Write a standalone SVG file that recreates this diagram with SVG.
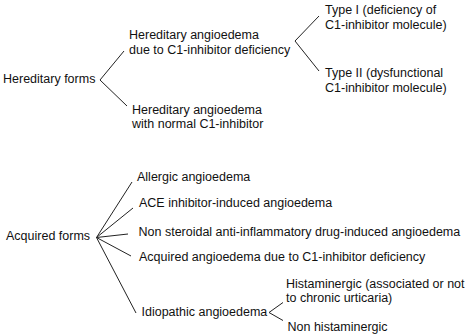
<svg xmlns="http://www.w3.org/2000/svg" width="474" height="336" viewBox="0 0 474 336">
<style>
text{font-family:"Liberation Sans",Arial,sans-serif;font-size:12.5px;fill:#111}
.c line{stroke:#222;stroke-width:1;fill:none}
</style>
<rect width="474" height="336" fill="#fff"/>
<g class="c" id="connectors">
<line x1="100" y1="80" x2="124" y2="51"/>
<line x1="100" y1="80" x2="127" y2="106"/>
<line x1="295" y1="41" x2="319" y2="16"/>
<line x1="295" y1="41" x2="319" y2="71"/>
<line x1="96.5" y1="237.5" x2="132" y2="182"/>
<line x1="96.5" y1="237.5" x2="133" y2="208"/>
<line x1="96.5" y1="237.5" x2="128" y2="234"/>
<line x1="96.5" y1="237.5" x2="131" y2="256"/>
<line x1="96.5" y1="237.5" x2="136" y2="313"/>
<line x1="269" y1="312.5" x2="283" y2="302.5"/>
<line x1="269" y1="312.5" x2="283" y2="320.5"/>
</g>
<g id="hereditary"><text x="3" y="83">Hereditary forms</text></g>
<g id="hae-c1"><text x="129" y="39">Hereditary angioedema</text><text x="129" y="53.5">due to C1-inhibitor deficiency</text></g>
<g id="hae-normal"><text x="132" y="114">Hereditary angioedema</text><text x="132" y="128">with normal C1-inhibitor</text></g>
<g id="type1"><text x="325" y="14">Type I (deficiency of</text><text x="325" y="28.5">C1-inhibitor molecule)</text></g>
<g id="type2"><text x="325" y="77">Type II (dysfunctional</text><text x="325" y="91.5">C1-inhibitor molecule)</text></g>
<g id="acquired"><text x="6" y="240">Acquired forms</text></g>
<g id="allergic"><text x="137" y="181">Allergic angioedema</text></g>
<g id="ace"><text x="139" y="207">ACE inhibitor-induced angioedema</text></g>
<g id="nsaid"><text x="138.5" y="236">Non steroidal anti-inflammatory drug-induced angioedema</text></g>
<g id="aae"><text x="139" y="261">Acquired angioedema due to C1-inhibitor deficiency</text></g>
<g id="idiopathic"><text x="141.5" y="316">Idiopathic angioedema</text></g>
<g id="histaminergic"><text x="286" y="288">Histaminergic (associated or not</text><text x="286" y="302">to chronic urticaria)</text></g>
<g id="nonhist"><text x="287.5" y="331">Non histaminergic</text></g>
</svg>
